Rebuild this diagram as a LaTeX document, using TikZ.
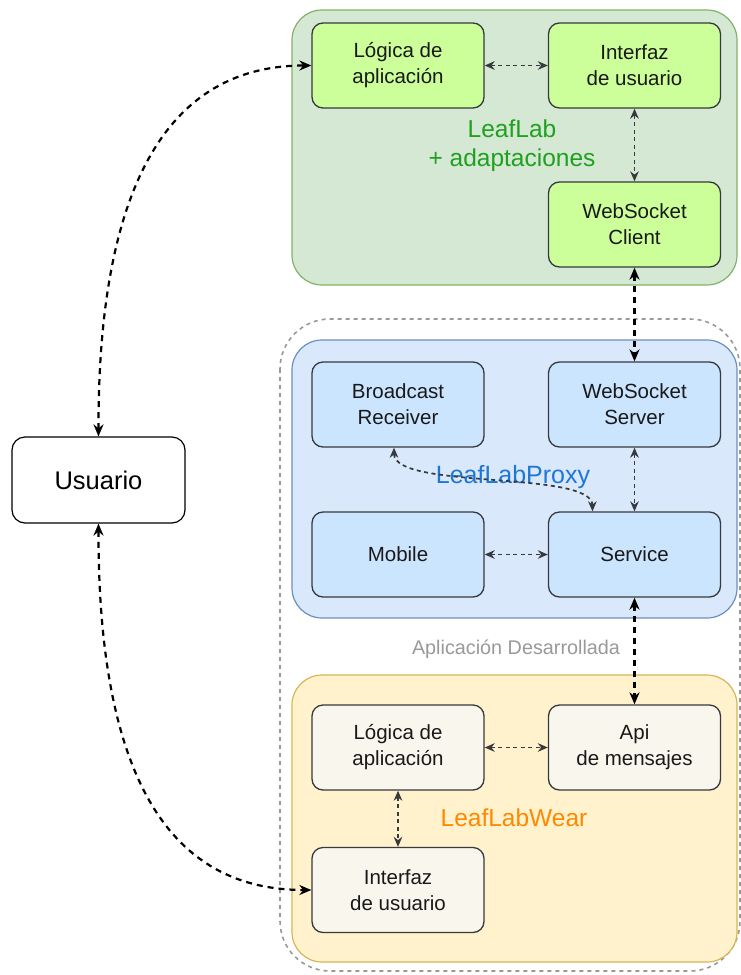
\documentclass[tikz,border=0pt]{standalone}
\usepackage{fontspec}
\setmainfont{Liberation Sans}
\usetikzlibrary{arrows.meta}
\definecolor{gfill}{HTML}{D5E8D4}\definecolor{gline}{HTML}{82B366}
\definecolor{gbox}{HTML}{CCFF99}
\definecolor{bfill}{HTML}{DAE8FC}\definecolor{bline}{HTML}{6C8EBF}
\definecolor{bbox}{HTML}{CCE5FF}
\definecolor{ofill}{HTML}{FFF2CC}\definecolor{oline}{HTML}{D6B656}
\definecolor{obox}{HTML}{F9F7ED}
\definecolor{edge}{HTML}{36393D}
\definecolor{tgreen}{HTML}{1FA01F}
\definecolor{tblue}{HTML}{1F77D4}
\definecolor{torange}{HTML}{FF8800}
\definecolor{tgray}{HTML}{999999}
\tikzset{
  container/.style={line width=1.2pt, rounded corners=30pt},
  box/.style={draw=edge, line width=1.3pt, rounded corners=11pt, minimum width=172pt, minimum height=85pt,
    align=center, font=\fontsize{20.5}{26}\selectfont, text=black!90, inner sep=2pt},
  thinconn/.style={draw=edge, line width=1.7pt, dash pattern=on 4pt off 3.5pt, {Stealth[length=10pt,width=8.5pt]}-{Stealth[length=10pt,width=8.5pt]}},
  thickconn/.style={draw=black, line width=2.2pt, dash pattern=on 6pt off 5pt, {Stealth[length=12pt,width=10pt]}-{Stealth[length=12pt,width=10pt]}},
}
\begin{document}
\begin{tikzpicture}[x=1pt,y=-1pt]
\useasboundingbox (0,0) rectangle (741,975);
% outer dashed boundary
\draw[tgray, line width=1.6pt, dash pattern=on 4pt off 4pt, rounded corners=50pt] (280,319) rectangle (740,971);
% containers
\draw[container, fill=gfill, draw=gline] (292,10) rectangle (737,285);
\draw[container, fill=bfill, draw=bline] (292,340) rectangle (737,618);
\draw[container, fill=ofill, draw=oline] (292,675) rectangle (737,962);
% container labels
\node[font=\fontsize{24.5}{29}\selectfont, text=tgreen, align=center] (tl1) at (512,146) {LeafLab\\+ adaptaciones};
\node[font=\fontsize{25}{29}\selectfont, text=tblue] (tl2) at (513,477) {LeafLabProxy};
\node[font=\fontsize{24.5}{29}\selectfont, text=torange] (tl3) at (514,818) {LeafLabWear};
\node[font=\fontsize{19.8}{24}\selectfont, text=tgray] (tl4) at (516,649) {Aplicación Desarrollada};
% boxes
\node[box, fill=gbox] (lg) at (398,65.5) {Lógica de\\aplicación};
\node[box, fill=gbox] (ig) at (634.5,65.5) {Interfaz\\de usuario};
\node[box, fill=gbox] (wc) at (634.5,224.5) {WebSocket\\Client};
\node[box, fill=bbox] (br) at (398,404.5) {Broadcast\\Receiver};
\node[box, fill=bbox] (ws) at (634.5,404.5) {WebSocket\\Server};
\node[box, fill=bbox] (mo) at (398,554.5) {Mobile};
\node[box, fill=bbox] (sv) at (634.5,554.5) {Service};
\node[box, fill=obox] (lw) at (398,747.5) {Lógica de\\aplicación};
\node[box, fill=obox] (api) at (634.5,747.5) {Api\\de mensajes};
\node[box, fill=obox] (iw) at (398,890) {Interfaz\\de usuario};
\node[draw=black, line width=1.2pt, rounded corners=13pt, minimum width=173pt, minimum height=86pt,
  fill=white, font=\fontsize{25.5}{29}\selectfont] (us) at (98.5,480) {Usuario};
% thin connectors
\draw[thinconn] (lg.east) -- (ig.west);
\draw[thinconn] (ig.south) -- (wc.north);
\draw[thinconn] (ws.south) -- (sv.north);
\draw[thinconn] (mo.east) -- (sv.west);
\draw[thinconn] (lw.east) -- (api.west);
\draw[thinconn] (lw.south) -- (iw.north);
\draw[thinconn] ([xshift=-4pt]br.south) .. controls (394,490) and (592,470) .. ([xshift=-42pt]sv.north);
% thick connectors
\draw[thickconn] (wc.south) -- (ws.north);
\draw[thickconn] (sv.south) -- (api.north);
\draw[thickconn] (us.north) .. controls (98,150) and (190,65.5) .. (lg.west);
\draw[thickconn] (us.south) .. controls (98,810) and (190,890) .. (iw.west);
\end{tikzpicture}
\end{document}
